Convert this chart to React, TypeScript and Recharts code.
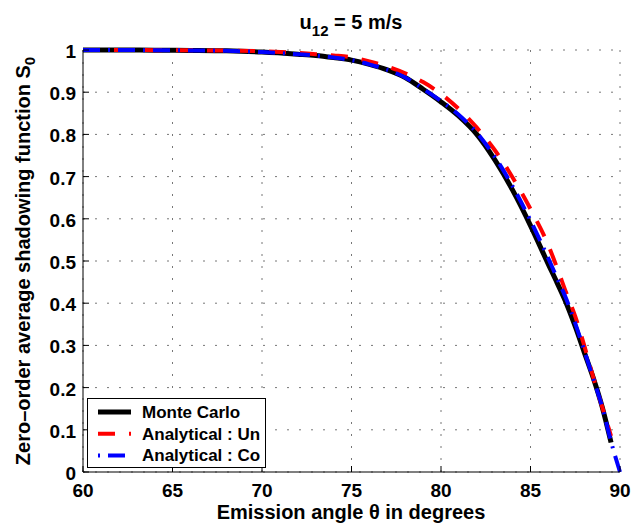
import React from "react";
import { LineChart, Line, XAxis, YAxis, CartesianGrid } from "recharts";

// emission angle (deg) and S0 for each curve
const angles = [60, 62, 64, 66, 68, 70, 72, 73, 74, 75, 76, 77, 78, 79, 80, 81, 82, 83, 84, 85, 86, 86.5, 87, 87.5, 88, 88.5, 89, 89.5, 90];
const monteCarlo = [1, 1, 0.9995, 0.999, 0.998, 0.995, 0.99, 0.987, 0.982, 0.976, 0.966, 0.953, 0.935, 0.907, 0.877, 0.843, 0.8, 0.74, 0.668, 0.584, 0.492, 0.447, 0.4, 0.345, 0.284, 0.224, 0.155, 0.07, null];
const analyticalUn = [1, 1, 0.9997, 0.9993, 0.9985, 0.997, 0.993, 0.99, 0.987, 0.983, 0.973, 0.961, 0.945, 0.924, 0.896, 0.86, 0.816, 0.763, 0.698, 0.623, 0.537, 0.482, 0.424, 0.369, 0.3, 0.225, 0.155, 0.085, null];
const analyticalCo = [1, 1, 0.9995, 0.999, 0.998, 0.995, 0.99, 0.987, 0.982, 0.976, 0.966, 0.953, 0.935, 0.908, 0.879, 0.846, 0.804, 0.747, 0.677, 0.596, 0.506, 0.458, 0.41, 0.352, 0.288, 0.222, 0.155, 0.072, 0];

const xTicks = [60, 65, 70, 75, 80, 85, 90];
const yTicks = [0, 0.1, 0.2, 0.3, 0.4, 0.5, 0.6, 0.7, 0.8, 0.9, 1];

const seriesNames = ["Monte Carlo", "Analytical : Un", "Analytical : Co"];
const seriesKeys = ["mc", "un", "co"];
const COLORS = ["#000000", "#ff0000", "#0000ff"];
const WIDTHS = [5, 4, 4];
const DASHES = [undefined, "17 14", "17 8 2 8"];
const LEGEND_DASHES = [undefined, "17 14", "2 8 17 8"];

const rows = angles.map((a, i) => ({
  angle: a,
  mc: monteCarlo[i],
  un: analyticalUn[i],
  co: analyticalCo[i],
}));

const FONT = "'Liberation Sans', Arial, Helvetica, sans-serif";
const TICK_LEN = 6;

const fmtY = (v: number) => (v === 0 || v === 1 ? String(v) : v.toFixed(1));

const BottomTick = ({ x, y, payload }: any) => (
  <g>
    <line x1={x} x2={x} y1={y} y2={y - TICK_LEN} stroke="#000" />
    <text x={x} y={y + 25} textAnchor="middle" fontSize={19} fontWeight="bold" fontFamily={FONT} fill="#000">
      {payload.value}
    </text>
  </g>
);

const TopTick = ({ x, y }: any) => <line x1={x} x2={x} y1={y} y2={y + TICK_LEN} stroke="#000" />;

const LeftTick = ({ x, y, payload }: any) => (
  <g>
    <line x1={x + 7} x2={x + 7 + TICK_LEN} y1={y} y2={y} stroke="#000" />
    <text x={x} y={y + 8} textAnchor="end" fontSize={19} fontWeight="bold" fontFamily={FONT} fill="#000">
      {fmtY(payload.value)}
    </text>
  </g>
);

const RightTick = ({ x, y }: any) => <line x1={x} x2={x - TICK_LEN} y1={y} y2={y} stroke="#000" />;

export default function App() {
  return (
    <div style={{ position: "absolute", left: 0, top: 0, width: 643, height: 523, background: "#fff" }}>
      <LineChart width={643} height={523} data={rows} margin={{ top: 50, right: 23, bottom: 0, left: 0 }}>
        <CartesianGrid stroke="#777" strokeDasharray="2 10" horizontalValues={yTicks} verticalValues={xTicks} />
        <XAxis
          dataKey="angle"
          type="number"
          domain={[60, 90]}
          ticks={xTicks}
          height={51}
          tickSize={0}
          tickMargin={0}
          tickLine={false}
          axisLine={{ stroke: "#000" }}
          tick={<BottomTick />}
        />
        <XAxis
          xAxisId="top"
          orientation="top"
          dataKey="angle"
          type="number"
          domain={[60, 90]}
          ticks={xTicks}
          height={0}
          tickSize={0}
          tickMargin={0}
          tickLine={false}
          axisLine={{ stroke: "#000" }}
          tick={<TopTick />}
        />
        <YAxis
          type="number"
          domain={[0, 1]}
          ticks={yTicks}
          width={83}
          tickSize={0}
          tickMargin={7}
          tickLine={false}
          axisLine={{ stroke: "#000" }}
          tick={<LeftTick />}
        />
        <YAxis
          yAxisId="right"
          orientation="right"
          type="number"
          domain={[0, 1]}
          ticks={yTicks}
          width={0}
          tickSize={0}
          tickMargin={0}
          tickLine={false}
          axisLine={{ stroke: "#000" }}
          tick={<RightTick />}
        />
        {seriesKeys.map((k, i) => (
          <Line
            key={k}
            dataKey={k}
            type="monotone"
            stroke={COLORS[i]}
            strokeWidth={WIDTHS[i]}
            strokeDasharray={DASHES[i]}
            dot={false}
            activeDot={false}
            isAnimationActive={false}
          />
        ))}
      </LineChart>

      <svg width={643} height={523} style={{ position: "absolute", left: 0, top: 0, pointerEvents: "none" }} fontFamily={FONT}>
        {/* title */}
        <text x={351} y={29} textAnchor="middle" fontSize={20} fontWeight="bold">
          u<tspan fontSize={15} dy={7}>12</tspan>
          <tspan dy={-7}> = 5 m/s</tspan>
        </text>
        {/* axis labels */}
        <text x={351} y={519} textAnchor="middle" fontSize={20} fontWeight="bold">
          Emission angle θ in degrees
        </text>
        <text x={30} y={261} textAnchor="middle" fontSize={20} fontWeight="bold" transform="rotate(-90 30 261)">
          Zero–order average shadowing function S<tspan fontSize={15} dy={5}>0</tspan>
        </text>
        {/* legend */}
        <rect x={87.5} y={398.5} width={178} height={69} fill="#fff" stroke="#000" />
        {seriesNames.map((name, i) => {
          const cy = 412 + i * 21.7;
          return (
            <g key={name}>
              <line x1={98} x2={131} y1={cy} y2={cy} stroke={COLORS[i]} strokeWidth={WIDTHS[i]} strokeDasharray={LEGEND_DASHES[i]} />
              <text x={142} y={cy + 6} fontSize={17} fontWeight="bold">
                {name}
              </text>
            </g>
          );
        })}
      </svg>
    </div>
  );
}
